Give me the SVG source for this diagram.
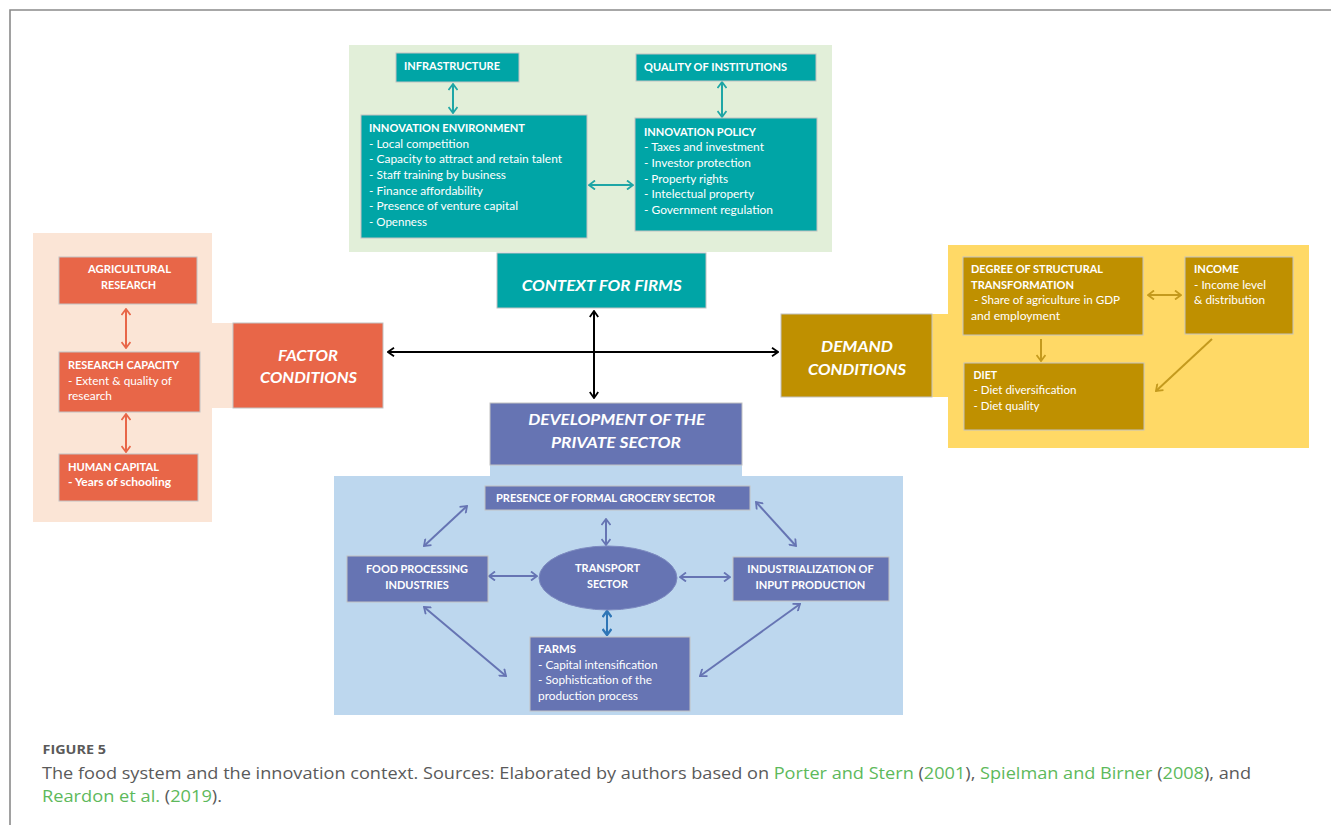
<svg xmlns="http://www.w3.org/2000/svg" width="1331" height="825" viewBox="0 0 1331 825">
<style>
.t{font-family:Lato,"Liberation Sans",sans-serif;font-size:11.5px;fill:#fff}
.b{font-weight:700}
.big{font-size:16px;font-weight:700;font-style:italic}
.m{text-anchor:middle}
.box{stroke:#c2c2c2;stroke-width:1}
.teal{fill:#00a5a6}
.org{fill:#e86648}
.gold{fill:#bf9000}
.pur{fill:#6674b3}
.ln{fill:none;stroke-width:2}
.cap{font-family:"Open Sans","Liberation Sans",sans-serif;fill:#5a5a5a}
.g{fill:#5db95b}
</style>
<defs>
<marker id="aTeal" viewBox="0 0 10 10" refX="9" refY="5" markerWidth="10" markerHeight="10" markerUnits="userSpaceOnUse" orient="auto-start-reverse"><path d="M3,0.5 L9,5 L3,9.5" fill="none" stroke="#1ea6a6" stroke-width="1.8"/></marker>
<marker id="aBlk" viewBox="0 0 10 10" refX="9" refY="5" markerWidth="10" markerHeight="10" markerUnits="userSpaceOnUse" orient="auto-start-reverse"><path d="M3,0.8 L9,5 L3,9.2" fill="none" stroke="#000" stroke-width="1.8"/></marker>
<marker id="aOrg" viewBox="0 0 10 10" refX="9" refY="5" markerWidth="10" markerHeight="10" markerUnits="userSpaceOnUse" orient="auto-start-reverse"><path d="M3,0.5 L9,5 L3,9.5" fill="none" stroke="#e86648" stroke-width="1.8"/></marker>
<marker id="aGold" viewBox="0 0 10 10" refX="9" refY="5" markerWidth="10" markerHeight="10" markerUnits="userSpaceOnUse" orient="auto-start-reverse"><path d="M3,0.5 L9,5 L3,9.5" fill="none" stroke="#c49a1e" stroke-width="1.8"/></marker>
<marker id="aPur" viewBox="0 0 10 10" refX="9" refY="5" markerWidth="10" markerHeight="10" markerUnits="userSpaceOnUse" orient="auto-start-reverse"><path d="M3,0.5 L9,5 L3,9.5" fill="none" stroke="#6674b3" stroke-width="1.8"/></marker>
<marker id="aBlu" viewBox="0 0 10 10" refX="9" refY="5" markerWidth="10" markerHeight="10" markerUnits="userSpaceOnUse" orient="auto-start-reverse"><path d="M3,0.5 L9,5 L3,9.5" fill="none" stroke="#2e75b6" stroke-width="2.4"/></marker>
</defs>
<rect width="1331" height="825" fill="#fff"/>
<g id="frame" fill="none" stroke="#8a8a8a" stroke-width="1.6">
<path d="M10,825 V10 H1331"/>
</g>
<g id="backgrounds">
<rect x="349" y="45" width="483" height="207" fill="#e2efd9"/>
<path d="M33,233 H212 V323 H233 V408 H212 V522 H33 Z" fill="#fbe5d6"/>
<path d="M948,245 H1309 V448 H948 V397 H932 V314 H948 Z" fill="#ffd966"/>
<path d="M334,476 H490 V465 H742 V476 H903 V715 H334 Z" fill="#bdd7ee"/>
</g>
<g id="connectors">
<line class="ln" stroke="#1ea6a6" x1="453" y1="84" x2="453" y2="113" marker-start="url(#aTeal)" marker-end="url(#aTeal)"/>
<line class="ln" stroke="#1ea6a6" x1="722" y1="82" x2="722" y2="117" marker-start="url(#aTeal)" marker-end="url(#aTeal)"/>
<line class="ln" stroke="#1ea6a6" x1="589" y1="185" x2="633" y2="185" marker-start="url(#aTeal)" marker-end="url(#aTeal)"/>
<line class="ln" stroke="#000" x1="388" y1="352" x2="778" y2="352" marker-start="url(#aBlk)" marker-end="url(#aBlk)"/>
<line class="ln" stroke="#000" x1="594" y1="311" x2="594" y2="398" marker-start="url(#aBlk)" marker-end="url(#aBlk)"/>
<line class="ln" stroke="#e86648" x1="126" y1="309" x2="126" y2="348" marker-start="url(#aOrg)" marker-end="url(#aOrg)"/>
<line class="ln" stroke="#e86648" x1="126" y1="414" x2="126" y2="452" marker-start="url(#aOrg)" marker-end="url(#aOrg)"/>
<line class="ln" stroke="#c49a1e" x1="1148" y1="295" x2="1181" y2="295" marker-start="url(#aGold)" marker-end="url(#aGold)"/>
<line class="ln" stroke="#c49a1e" x1="1041" y1="339" x2="1041" y2="361" marker-end="url(#aGold)"/>
<line class="ln" stroke="#c49a1e" x1="1212" y1="339" x2="1156" y2="391" marker-end="url(#aGold)"/>
<line class="ln" stroke="#6674b3" x1="467" y1="506" x2="424" y2="546" marker-start="url(#aPur)" marker-end="url(#aPur)"/>
<line class="ln" stroke="#6674b3" x1="756" y1="502" x2="796" y2="546" marker-start="url(#aPur)" marker-end="url(#aPur)"/>
<line class="ln" stroke="#6674b3" x1="606" y1="519" x2="606" y2="545" marker-start="url(#aPur)" marker-end="url(#aPur)"/>
<line class="ln" stroke="#6674b3" x1="489" y1="576" x2="537" y2="576" marker-start="url(#aPur)" marker-end="url(#aPur)"/>
<line class="ln" stroke="#6674b3" x1="680" y1="577" x2="730" y2="577" marker-start="url(#aPur)" marker-end="url(#aPur)"/>
<line class="ln" stroke="#2e75b6" stroke-width="2.6" x1="607" y1="611" x2="607" y2="635" marker-start="url(#aBlu)" marker-end="url(#aBlu)"/>
<line class="ln" stroke="#6674b3" x1="424" y1="607" x2="506" y2="676" marker-start="url(#aPur)" marker-end="url(#aPur)"/>
<line class="ln" stroke="#6674b3" x1="800" y1="604" x2="700" y2="676" marker-start="url(#aPur)" marker-end="url(#aPur)"/>
</g>
<g id="infrastructure">
<rect class="box teal" x="396" y="53" width="123" height="29"/>
<text class="t b" x="404" y="70" textLength="96" lengthAdjust="spacingAndGlyphs">INFRASTRUCTURE</text>
</g>
<g id="quality-of-institutions">
<rect class="box teal" x="636" y="54" width="180" height="27"/>
<text class="t b" x="644" y="70.5" textLength="143" lengthAdjust="spacingAndGlyphs">QUALITY OF INSTITUTIONS</text>
</g>
<g id="innovation-environment">
<rect class="box teal" x="361" y="115" width="226" height="123"/>
<text class="t b" x="369" y="132.3" textLength="156" lengthAdjust="spacingAndGlyphs">INNOVATION ENVIRONMENT</text>
<text class="t" x="369" y="147.8" textLength="100" lengthAdjust="spacingAndGlyphs">- Local competition</text>
<text class="t" x="369" y="163.4" textLength="193" lengthAdjust="spacingAndGlyphs">- Capacity to attract and retain talent</text>
<text class="t" x="369" y="179" textLength="137" lengthAdjust="spacingAndGlyphs">- Staff training by business</text>
<text class="t" x="369" y="194.5" textLength="114" lengthAdjust="spacingAndGlyphs">- Finance affordability</text>
<text class="t" x="369" y="210" textLength="149" lengthAdjust="spacingAndGlyphs">- Presence of venture capital</text>
<text class="t" x="369" y="225.5" textLength="58" lengthAdjust="spacingAndGlyphs">- Openness</text>
</g>
<g id="innovation-policy">
<rect class="box teal" x="635" y="118" width="182" height="113"/>
<text class="t b" x="644" y="135.7" textLength="112" lengthAdjust="spacingAndGlyphs">INNOVATION POLICY</text>
<text class="t" x="644" y="151.3" textLength="120" lengthAdjust="spacingAndGlyphs">- Taxes and investment</text>
<text class="t" x="644" y="166.9" textLength="107" lengthAdjust="spacingAndGlyphs">- Investor protection</text>
<text class="t" x="644" y="182.5" textLength="84" lengthAdjust="spacingAndGlyphs">- Property rights</text>
<text class="t" x="644" y="198" textLength="110" lengthAdjust="spacingAndGlyphs">- Intelectual property</text>
<text class="t" x="644" y="213.5" textLength="129" lengthAdjust="spacingAndGlyphs">- Government regulation</text>
</g>
<g id="context-for-firms">
<rect class="box teal" x="497" y="253" width="209" height="55"/>
<text class="t big m" x="601.7" y="291" textLength="160" lengthAdjust="spacingAndGlyphs">CONTEXT FOR FIRMS</text>
</g>
<g id="agricultural-research">
<rect class="box org" x="59" y="257" width="138" height="47"/>
<text class="t b m" x="129.5" y="273.3" textLength="83" lengthAdjust="spacingAndGlyphs">AGRICULTURAL</text>
<text class="t b m" x="128.5" y="289" textLength="55" lengthAdjust="spacingAndGlyphs">RESEARCH</text>
</g>
<g id="research-capacity">
<rect class="box org" x="59" y="352" width="141" height="60"/>
<text class="t b" x="68" y="369.3" textLength="111" lengthAdjust="spacingAndGlyphs">RESEARCH CAPACITY</text>
<text class="t" x="68" y="384.8" textLength="104" lengthAdjust="spacingAndGlyphs">- Extent &amp; quality of</text>
<text class="t" x="68" y="400" textLength="44" lengthAdjust="spacingAndGlyphs">research</text>
</g>
<g id="human-capital">
<rect class="box org" x="59" y="454" width="139" height="47"/>
<text class="t b" x="68" y="470.7" textLength="91" lengthAdjust="spacingAndGlyphs">HUMAN CAPITAL</text>
<text class="t b" x="68" y="486" textLength="103" lengthAdjust="spacingAndGlyphs">- Years of schooling</text>
</g>
<g id="factor-conditions">
<rect class="box org" x="233" y="323" width="150" height="85"/>
<text class="t big m" x="308" y="361" textLength="60" lengthAdjust="spacingAndGlyphs">FACTOR</text>
<text class="t big m" x="308.5" y="383" textLength="97" lengthAdjust="spacingAndGlyphs">CONDITIONS</text>
</g>
<g id="demand-conditions">
<rect class="box gold" x="781" y="314" width="151" height="83"/>
<text class="t big m" x="857" y="352" textLength="72" lengthAdjust="spacingAndGlyphs">DEMAND</text>
<text class="t big m" x="857" y="374.5" textLength="98" lengthAdjust="spacingAndGlyphs">CONDITIONS</text>
</g>
<g id="structural-transformation">
<rect class="box gold" x="963" y="257" width="180" height="78"/>
<text class="t b" x="971" y="273.3" textLength="132" lengthAdjust="spacingAndGlyphs">DEGREE OF STRUCTURAL</text>
<text class="t b" x="971" y="288.5" textLength="103" lengthAdjust="spacingAndGlyphs">TRANSFORMATION</text>
<text class="t" x="974" y="304" textLength="146" lengthAdjust="spacingAndGlyphs">- Share of agriculture in GDP</text>
<text class="t" x="971" y="319.5" textLength="89" lengthAdjust="spacingAndGlyphs">and employment</text>
</g>
<g id="income">
<rect class="box gold" x="1185" y="257" width="108" height="77"/>
<text class="t b" x="1194" y="273.3" textLength="45" lengthAdjust="spacingAndGlyphs">INCOME</text>
<text class="t" x="1194" y="288.5" textLength="72" lengthAdjust="spacingAndGlyphs">- Income level</text>
<text class="t" x="1194" y="304" textLength="71" lengthAdjust="spacingAndGlyphs">&amp; distribution</text>
</g>
<g id="diet">
<rect class="box gold" x="964" y="363" width="180" height="67"/>
<text class="t b" x="973.5" y="379" textLength="23.5" lengthAdjust="spacingAndGlyphs">DIET</text>
<text class="t" x="973.5" y="394.3" textLength="103" lengthAdjust="spacingAndGlyphs">- Diet diversification</text>
<text class="t" x="973.5" y="409.5" textLength="66" lengthAdjust="spacingAndGlyphs">- Diet quality</text>
</g>
<g id="development-private-sector">
<rect class="box pur" x="490" y="403" width="252" height="62"/>
<text class="t big m" x="616.7" y="425" textLength="177" lengthAdjust="spacingAndGlyphs">DEVELOPMENT OF THE</text>
<text class="t big m" x="616" y="448" textLength="130" lengthAdjust="spacingAndGlyphs">PRIVATE SECTOR</text>
</g>
<g id="formal-grocery-sector">
<rect class="box pur" x="485" y="486" width="265" height="24"/>
<text class="t b" x="496" y="502" textLength="219" lengthAdjust="spacingAndGlyphs">PRESENCE OF FORMAL GROCERY SECTOR</text>
</g>
<g id="food-processing">
<rect class="box pur" x="347" y="556" width="141" height="46"/>
<text class="t b m" x="417" y="573.3" textLength="102" lengthAdjust="spacingAndGlyphs">FOOD PROCESSING</text>
<text class="t b m" x="417" y="589" textLength="63.5" lengthAdjust="spacingAndGlyphs">INDUSTRIES</text>
</g>
<g id="transport-sector">
<ellipse class="pur" cx="608" cy="578" rx="69" ry="32" stroke="#7d8ac0" stroke-width="1"/>
<text class="t b m" x="607.5" y="572" textLength="65" lengthAdjust="spacingAndGlyphs">TRANSPORT</text>
<text class="t b m" x="607.5" y="587.5" textLength="41" lengthAdjust="spacingAndGlyphs">SECTOR</text>
</g>
<g id="input-production">
<rect class="box pur" x="733" y="557" width="156" height="44"/>
<text class="t b m" x="810.5" y="573.3" textLength="126.5" lengthAdjust="spacingAndGlyphs">INDUSTRIALIZATION OF</text>
<text class="t b m" x="810.4" y="589" textLength="110" lengthAdjust="spacingAndGlyphs">INPUT PRODUCTION</text>
</g>
<g id="farms">
<rect class="box pur" x="530" y="637" width="160" height="74"/>
<text class="t b" x="538" y="653.3" textLength="38" lengthAdjust="spacingAndGlyphs">FARMS</text>
<text class="t" x="538" y="668.8" textLength="119.5" lengthAdjust="spacingAndGlyphs">- Capital intensification</text>
<text class="t" x="538" y="684.3" textLength="114" lengthAdjust="spacingAndGlyphs">- Sophistication of the</text>
<text class="t" x="538" y="699.8" textLength="100" lengthAdjust="spacingAndGlyphs">production process</text>
</g>
<g id="caption">
<text class="cap" x="42.5" y="753.5" font-size="12.5" font-weight="700" fill="#666" textLength="63.5" lengthAdjust="spacingAndGlyphs">FIGURE 5</text>
<text class="cap" x="42" y="778.5" font-size="16" textLength="1209" lengthAdjust="spacingAndGlyphs">The food system and the innovation context. Sources: Elaborated by authors based on <tspan class="g">Porter and Stern</tspan> (<tspan class="g">2001</tspan>), <tspan class="g">Spielman and Birner</tspan> (<tspan class="g">2008</tspan>), and</text>
<text class="cap" x="42" y="802" font-size="16" textLength="180" lengthAdjust="spacingAndGlyphs"><tspan class="g">Reardon et al.</tspan> (<tspan class="g">2019</tspan>).</text>
</g>
</svg>
